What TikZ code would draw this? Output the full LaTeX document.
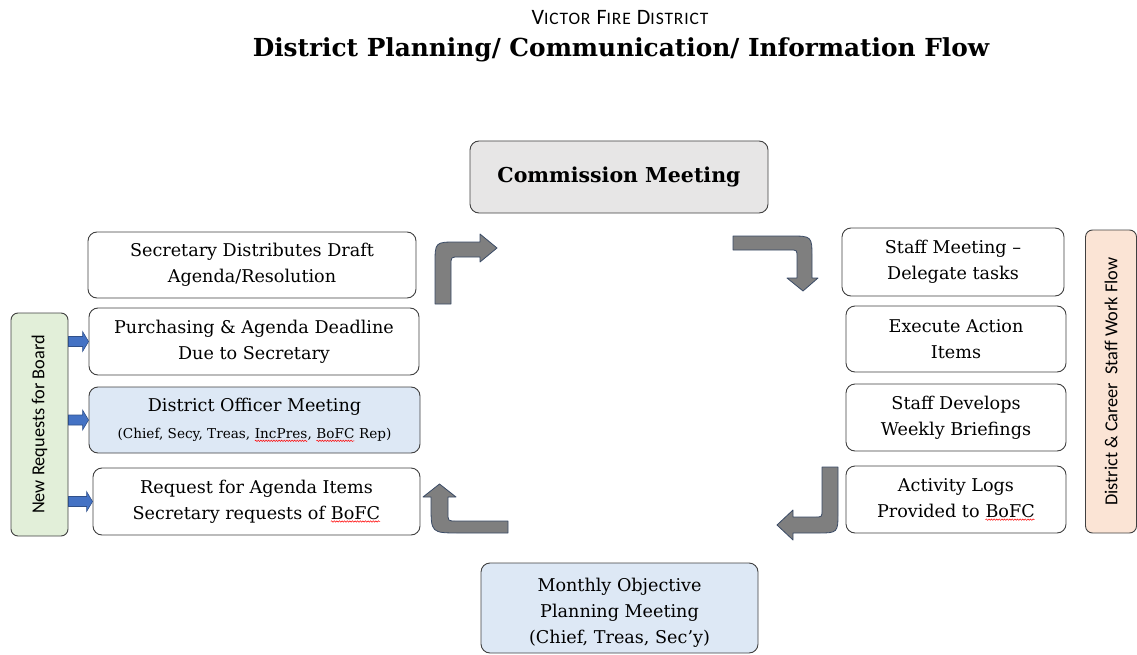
\documentclass[tikz,border=0pt]{standalone}
\usepackage{fontspec}
\setmainfont{DejaVu Serif}
\newfontfamily\sidefont{Carlito}
\newfontfamily\orgfont{Carlito}[LetterSpace=5]
\usetikzlibrary{positioning,calc,decorations.pathmorphing}

\definecolor{meetgray}{HTML}{E7E6E6}
\definecolor{planblue}{HTML}{DDE8F5}
\definecolor{boardgreen}{HTML}{E2EFD9}
\definecolor{staffpeach}{HTML}{FBE4D5}
\definecolor{reqblue}{HTML}{4472C4}
\definecolor{bentgray}{HTML}{7F7F7F}
\definecolor{bentline}{HTML}{3A4B66}

% spell-check squiggle as printed in the source
\newcommand{\squig}[1]{\tikz[baseline=(sq.base)]{%
  \node[inner sep=0pt, outer sep=0pt, draw=none, fill=none, minimum size=0pt, rounded corners=0pt] (sq) {#1};
  \draw[red, line width=0.5pt, sharp corners, decorate, decoration={snake, amplitude=0.7pt, segment length=2.6pt}]
    ([yshift=-2pt]sq.south west) -- ([yshift=-2pt]sq.south east);}}

% small blue arrow from the side bar into a box
\newcommand{\pusharrow}[1]{%
  \draw[reqarrow] ([yshift=5pt]board.south |- #1.west) -- ([xshift=-6pt,yshift=5pt]#1.west)
    -- ([xshift=-6pt,yshift=10pt]#1.west) -- (#1.west)
    -- ([xshift=-6pt,yshift=-10pt]#1.west) -- ([xshift=-6pt,yshift=-5pt]#1.west)
    -- ([yshift=-5pt]board.south |- #1.west) -- cycle;}

\begin{document}
\begin{tikzpicture}[x=1pt,y=-1pt,
    stage/.style={draw=black!75, line width=0.9pt, rounded corners=9pt, fill=white,
      align=center, inner sep=0pt, font=\fontsize{17.6}{26}\selectfont},
    sidebar/.style={draw=black!75, line width=0.9pt, rounded corners=7pt, align=center,
      inner sep=0pt, rotate=90, font=\sidefont\fontsize{18.3}{20}\selectfont},
    bent/.style={fill=bentgray, draw=bentline, line width=0.8pt, line join=round},
    reqarrow/.style={fill=reqblue, draw=reqblue!70!black, line width=0.6pt}]
  \useasboundingbox (0,0) rectangle (1137,655);

  % titles
  \node (org) at (620,18) {\orgfont\fontsize{22}{24}\selectfont
    V{\fontsize{17.5}{24}\selectfont ICTOR} F{\fontsize{17.5}{24}\selectfont IRE} D{\fontsize{17.5}{24}\selectfont ISTRICT}};
  \node (title) at (621,50) {\fontsize{24.8}{30}\selectfont\bfseries District Planning/ Communication/ Information Flow};

  % top and bottom meetings
  \node[stage, fill=meetgray, minimum width=298pt, minimum height=72pt, font=\fontsize{20.5}{26}\selectfont\bfseries]
    (commission) at (619,177) {Commission Meeting};
  \node[stage, fill=planblue, minimum width=277pt, minimum height=90pt]
    (monthly) at (619.5,608) {\rule{0pt}{23pt}Monthly Objective\\Planning Meeting\\(Chief, Treas, Sec'y)};

  % left column
  \node[stage, minimum width=328pt, minimum height=66pt] (secdraft) at (252,265)
    {Secretary Distributes Draft\\Agenda/Resolution};
  \node[stage, minimum width=330pt, minimum height=67pt] (purch) at (254,341.5)
    {Purchasing \& Agenda Deadline\\Due to Secretary};
  \node[stage, fill=planblue, minimum width=331pt, minimum height=66pt] (officer) at (254.5,420)
    {District Officer Meeting\\[1pt]{\fontsize{13.6}{20}\selectfont(Chief, Secy, Treas, \squig{IncPres}, \squig{BoFC} Rep)}};
  \node[stage, minimum width=327pt, minimum height=67pt] (request) at (256.5,501.5)
    {Request for Agenda Items\\Secretary requests of \squig{BoFC}};
  \node[sidebar, fill=boardgreen, minimum width=223pt, minimum height=57pt] (board) at (39.5,424.5)
    {New Requests for Board};

  % right column
  \node[stage, minimum width=222pt, minimum height=68pt] (staff) at (953,262)
    {Staff Meeting --\\Delegate tasks};
  \node[stage, minimum width=220pt, minimum height=66pt] (execute) at (956,339)
    {Execute Action\\Items};
  \node[stage, minimum width=220pt, minimum height=67pt] (develop) at (956,417.5)
    {Staff Develops\\Weekly Briefings};
  \node[stage, minimum width=220pt, minimum height=67pt] (logs) at (956,499.5)
    {Activity Logs\\Provided to \squig{BoFC}};
  \node[sidebar, fill=staffpeach, minimum width=303pt, minimum height=51pt] (workflow) at (1111,381.5)
    {District \& Career\ \ Staff Work Flow};

  % inputs from the board
  \pusharrow{purch}
  \pusharrow{officer}
  \pusharrow{request}

  % bent flow arrows round the cycle
  \draw[bent] (435,304) -- (435,264) .. controls (435,242) .. (457,242) -- (480,242) -- (480,234)
    -- (497,248) -- (480,262) -- (480,257) -- (459,257) .. controls (451,257) .. (451,265) -- (451,304) -- cycle;
  \draw[bent] (733,236) -- (790,236) .. controls (812,236) .. (812,258) -- (812,278) -- (818,278)
    -- (803,291) -- (787,278) -- (797,278) -- (797,257) .. controls (797,250) .. (790,250) -- (733,250) -- cycle;
  \draw[bent] (822,467) -- (838,467) -- (838,512) .. controls (838,533) .. (817,533) -- (793,533) -- (793,540)
    -- (777,525) -- (793,510) -- (793,517) -- (815,517) .. controls (822,517) .. (822,510) -- cycle;
  \draw[bent] (508,521) -- (508,533) -- (460,533) .. controls (431,533) .. (431,505) -- (431,497) -- (423,497)
    -- (439.5,484) -- (456,497) -- (448,497) -- (448,513) .. controls (448,521) .. (456,521) -- cycle;
\end{tikzpicture}
\end{document}
